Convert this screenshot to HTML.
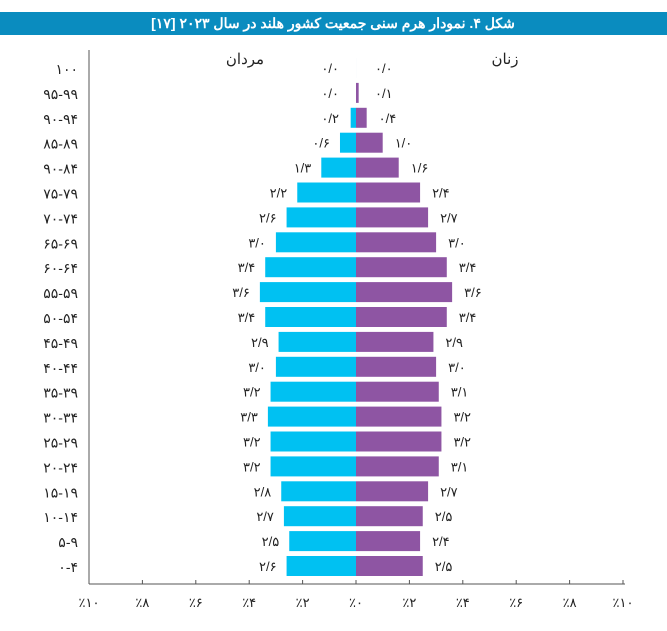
<!DOCTYPE html>
<html><head><meta charset="utf-8"><style>
body{margin:0;background:#fff;width:667px;height:626px;overflow:hidden;font-family:"Liberation Sans","Noto Sans CJK SC",sans-serif}
</style></head><body>
<svg id="c" width="667" height="626" style="font-family:'Liberation Sans','Noto Sans CJK SC',sans-serif">
<rect x="0" y="12" width="667" height="23" fill="#0a8cbf"/>
<text x="333" y="28" fill="#fff" font-size="14" font-weight="bold" text-anchor="middle" direction="rtl">شکل ۴. نمودار هرم سنی جمعیت کشور هلند در سال ۲۰۲۳ [۱۷]</text>
<text x="245" y="64" font-size="15" text-anchor="middle" fill="#222">مردان</text>
<text x="505" y="64" font-size="15" text-anchor="middle" fill="#222">زنان</text>
<line x1="89" y1="50" x2="89" y2="584" stroke="#555"/>
<line x1="89" y1="584" x2="625" y2="584" stroke="#555"/>
<g id="g"></g>
</svg>
<script>
const ages=["۱۰۰","۹۵-۹۹","۹۰-۹۴","۸۵-۸۹","۹۰-۸۴","۷۵-۷۹","۷۰-۷۴","۶۵-۶۹","۶۰-۶۴","۵۵-۵۹","۵۰-۵۴","۴۵-۴۹","۴۰-۴۴","۳۵-۳۹","۳۰-۳۴","۲۵-۲۹","۲۰-۲۴","۱۵-۱۹","۱۰-۱۴","۵-۹","۰-۴"];
const men=[0,0,0.2,0.6,1.3,2.2,2.6,3.0,3.4,3.6,3.4,2.9,3.0,3.2,3.3,3.2,3.2,2.8,2.7,2.5,2.6];
const women=[0,0.1,0.4,1.0,1.6,2.4,2.7,3.0,3.4,3.6,3.4,2.9,3.0,3.1,3.2,3.2,3.1,2.7,2.5,2.4,2.5];
const tickVals=[10,8,6,4,2,0,2,4,6,8,10];
const tickSide=[-1,-1,-1,-1,-1,0,1,1,1,1,1];
const NS="http://www.w3.org/2000/svg",g=document.getElementById('g');
const cx=356,k=26.7;
const xm=v=>cx-v*k, xf=v=>cx+v*k, yr=i=>68+i*24.9;
const fa=s=>String(s).replace(/\d/g,d=>"۰۱۲۳۴۵۶۷۸۹"[d]);
const fv=v=>fa(v.toFixed(1)).replace('.','/');
function mk(t,a){const e=document.createElementNS(NS,t);for(const p in a)e.setAttribute(p,a[p]);g.appendChild(e);return e;}
ages.forEach((a,i)=>{
 const y=yr(i);
 let t=mk('text',{x:78,y:y+6,'font-size':14,'text-anchor':'end',fill:'#222',direction:'ltr'});t.textContent=a;
 
 
 let b=mk('rect',{x:xm(men[i]),y:y-10,width:Math.max(men[i]*k,0.01),height:20,fill:'#00c1f2'});
 
 
 let c=mk('rect',{x:cx,y:y-10,width:Math.max(women[i]*k,0.01),height:20,fill:'#8e55a3'});
 
 
 let lm=mk('text',{x:Math.min(xm(men[i]),cx-7)-10,y:y+5,'font-size':13,'text-anchor':'end',fill:'#222'});lm.textContent=fv(men[i]);
 
 
 let lw=mk('text',{x:Math.max(xf(women[i]),cx+7)+12,y:y+5,'font-size':13,'text-anchor':'start',fill:'#222'});lw.textContent=fv(women[i]);
 
 
});
tickVals.forEach((v,i)=>{
 const x=tickSide[i]<0?xm(v):xf(v);
 let l=mk('line',{x1:x,y1:580,x2:x,y2:584,stroke:'#555'});
 
 
 let t=mk('text',{x:x,y:607,'font-size':13,'text-anchor':'middle',fill:'#222',direction:'ltr'});t.textContent='٪'+fa(v);
 
 
});
</script>
</body></html>
